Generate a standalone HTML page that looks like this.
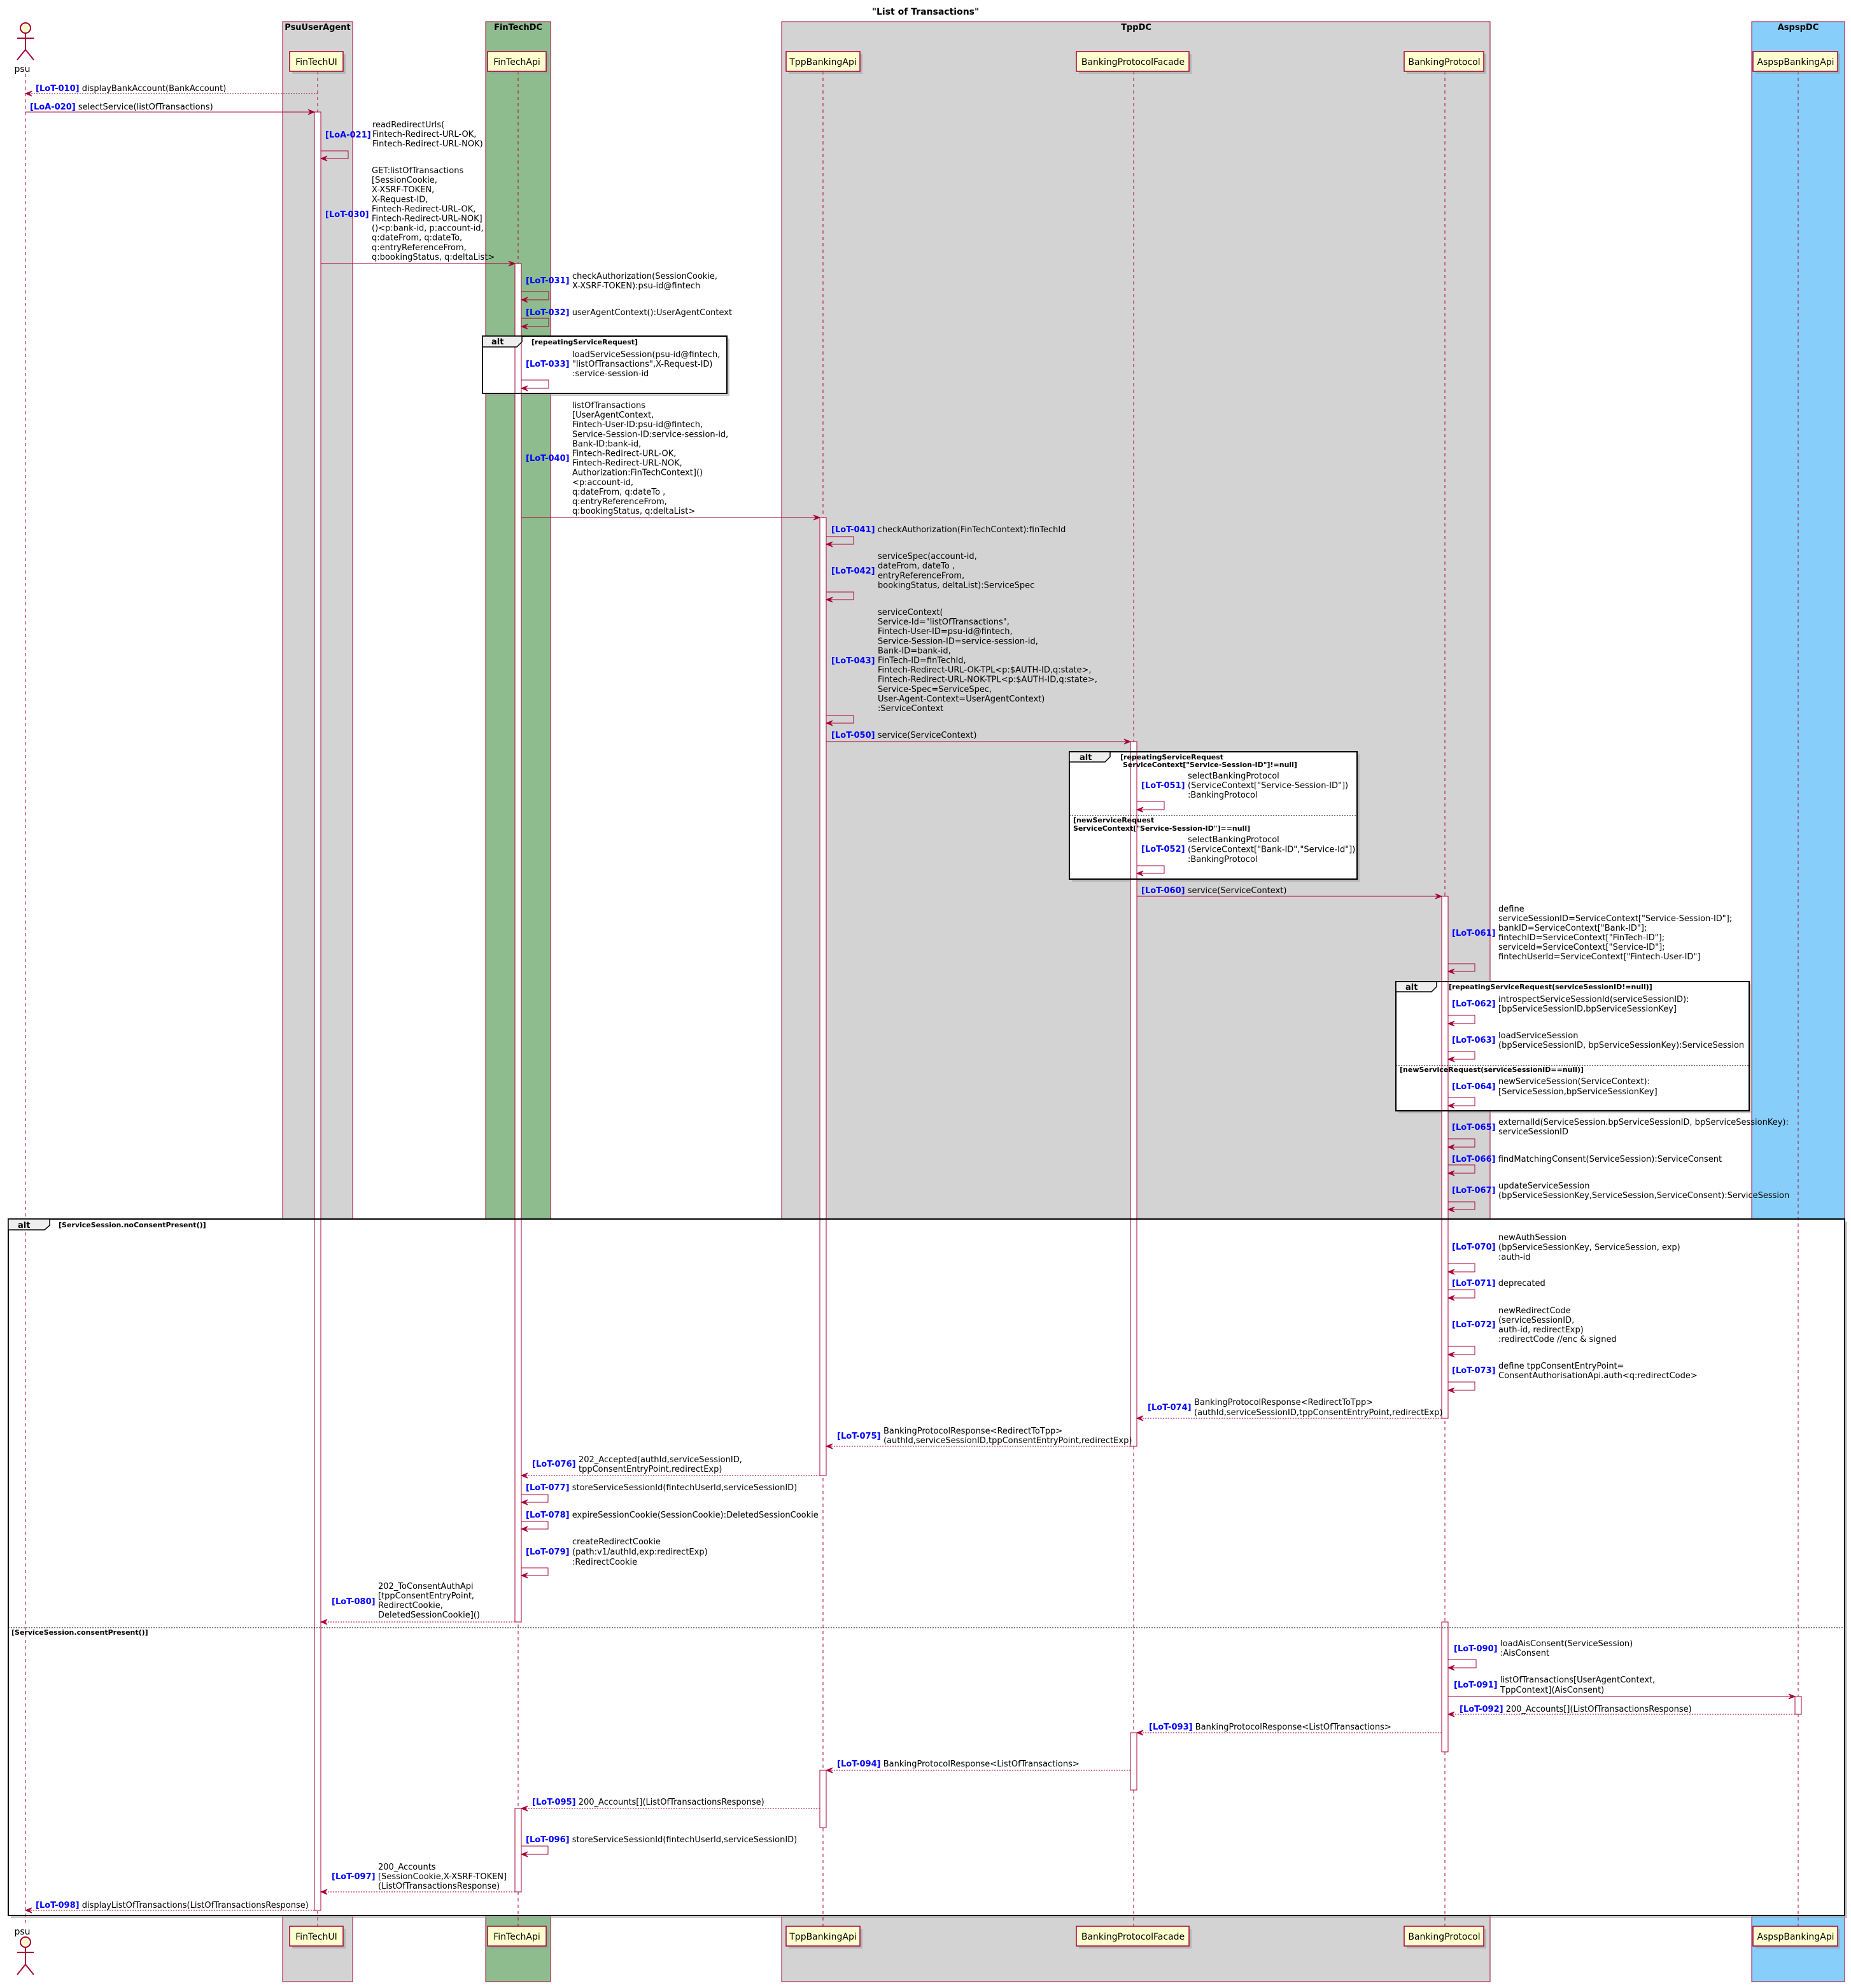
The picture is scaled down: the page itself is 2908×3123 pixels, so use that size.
<!DOCTYPE html>
<html><head><meta charset="utf-8"><style>
html,body{margin:0;padding:0;background:#fff}
svg{display:block}
text{font-family:"DejaVu Sans","Liberation Sans",sans-serif;font-size:13px;fill:#000}
.p{fill:#0000FF;font-weight:bold}
.g{font-size:11px;font-weight:bold}
.h{font-size:13px;font-weight:bold}
.pt{font-size:14px}
.ll{stroke:#A80036;stroke-width:1;stroke-dasharray:5,5}
.m{stroke:#A80036;stroke-width:1;fill:none}
.d{stroke:#A80036;stroke-width:1;fill:none;stroke-dasharray:2,2}
.ah{fill:#A80036;stroke:#A80036}
.act{fill:#fff;stroke:#A80036;stroke-width:1}
.part{fill:#FEFECE;stroke:#A80036;stroke-width:1.5}
.sh{fill:#999;opacity:.5}
.alt{fill:none;stroke:#000;stroke-width:2}
.sep{stroke:#000;stroke-width:1;stroke-dasharray:2,2}
</style></head><body>
<svg width="2908" height="3123" viewBox="0 0 2908 3123" xmlns="http://www.w3.org/2000/svg">
<text x="1454" y="23" text-anchor="middle" class="h" style="font-size:14px">"List of Transactions"</text>
<rect x="444" y="34" width="110" height="3079" fill="#D3D3D3" stroke="#A80036"/>
<rect x="763" y="34" width="102" height="3079" fill="#8FBC8F" stroke="#A80036"/>
<rect x="1228" y="34" width="1113" height="3079" fill="#D3D3D3" stroke="#A80036"/>
<rect x="2752" y="34" width="146" height="3079" fill="#87CEFA" stroke="#A80036"/>
<text x="499" y="47" text-anchor="middle" class="h">PsuUserAgent</text>
<text x="814" y="47" text-anchor="middle" class="h">FinTechDC</text>
<text x="1785" y="47" text-anchor="middle" class="h">TppDC</text>
<text x="2825" y="47" text-anchor="middle" class="h">AspspDC</text>

<rect x="17" y="1919" width="2885" height="1094" class="sh"/>
<rect x="13" y="1915" width="2885" height="1094" fill="#fff"/>
<rect x="762" y="532" width="384" height="90" class="sh"/>
<rect x="758" y="528" width="384" height="90" fill="#fff"/>
<rect x="1684" y="1185" width="452" height="200" class="sh"/>
<rect x="1680" y="1181" width="452" height="200" fill="#fff"/>
<rect x="2197" y="1546" width="555" height="203" class="sh"/>
<rect x="2193" y="1542" width="555" height="203" fill="#fff"/>

<line x1="40" y1="116" x2="40" y2="3026" class="ll"/>
<line x1="499" y1="112" x2="499" y2="3026" class="ll"/>
<line x1="814" y1="112" x2="814" y2="3026" class="ll"/>
<line x1="1293" y1="112" x2="1293" y2="3026" class="ll"/>
<line x1="1781" y1="112" x2="1781" y2="3026" class="ll"/>
<line x1="2270" y1="112" x2="2270" y2="3026" class="ll"/>
<line x1="2825" y1="112" x2="2825" y2="3026" class="ll"/>

<g>
<rect x="459" y="85" width="84" height="31" class="sh"/><rect x="455" y="81" width="84" height="31" class="part"/><text x="497" y="102" text-anchor="middle" class="pt">FinTechUI</text>
<rect x="770" y="85" width="92" height="31" class="sh"/><rect x="766" y="81" width="92" height="31" class="part"/><text x="812" y="102" text-anchor="middle" class="pt">FinTechApi</text>
<rect x="1239" y="85" width="116" height="31" class="sh"/><rect x="1235" y="81" width="116" height="31" class="part"/><text x="1293" y="102" text-anchor="middle" class="pt">TppBankingApi</text>
<rect x="1695" y="85" width="177" height="31" class="sh"/><rect x="1691" y="81" width="177" height="31" class="part"/><text x="1780" y="102" text-anchor="middle" class="pt">BankingProtocolFacade</text>
<rect x="2210" y="85" width="125" height="31" class="sh"/><rect x="2206" y="81" width="125" height="31" class="part"/><text x="2269" y="102" text-anchor="middle" class="pt">BankingProtocol</text>
<rect x="2758" y="85" width="133" height="31" class="sh"/><rect x="2754" y="81" width="133" height="31" class="part"/><text x="2821" y="102" text-anchor="middle" class="pt">AspspBankingApi</text>
<circle cx="40" cy="44" r="8" fill="#FEFECE" stroke="#A80036" stroke-width="2"/>
<line x1="40" y1="52" x2="40" y2="78" stroke="#A80036" stroke-width="2"/>
<line x1="27" y1="60" x2="53" y2="60" stroke="#A80036" stroke-width="2"/>
<polyline points="27,94 40,78 53,94" fill="none" stroke="#A80036" stroke-width="2"/>
<text x="35" y="113" text-anchor="middle" class="pt">psu</text>
</g>
<g>
<rect x="459" y="3030" width="84" height="31" class="sh"/><rect x="455" y="3026" width="84" height="31" class="part"/><text x="497" y="3047" text-anchor="middle" class="pt">FinTechUI</text>
<rect x="770" y="3030" width="92" height="31" class="sh"/><rect x="766" y="3026" width="92" height="31" class="part"/><text x="812" y="3047" text-anchor="middle" class="pt">FinTechApi</text>
<rect x="1239" y="3030" width="116" height="31" class="sh"/><rect x="1235" y="3026" width="116" height="31" class="part"/><text x="1293" y="3047" text-anchor="middle" class="pt">TppBankingApi</text>
<rect x="1695" y="3030" width="177" height="31" class="sh"/><rect x="1691" y="3026" width="177" height="31" class="part"/><text x="1780" y="3047" text-anchor="middle" class="pt">BankingProtocolFacade</text>
<rect x="2210" y="3030" width="125" height="31" class="sh"/><rect x="2206" y="3026" width="125" height="31" class="part"/><text x="2269" y="3047" text-anchor="middle" class="pt">BankingProtocol</text>
<rect x="2758" y="3030" width="133" height="31" class="sh"/><rect x="2754" y="3026" width="133" height="31" class="part"/><text x="2821" y="3047" text-anchor="middle" class="pt">AspspBankingApi</text>
<text x="35" y="3039" text-anchor="middle" class="pt">psu</text>
<circle cx="40" cy="3051" r="8" fill="#FEFECE" stroke="#A80036" stroke-width="2"/>
<line x1="40" y1="3059" x2="40" y2="3086" stroke="#A80036" stroke-width="2"/>
<line x1="27" y1="3067" x2="53" y2="3067" stroke="#A80036" stroke-width="2"/>
<polyline points="27,3102 40,3086 53,3102" fill="none" stroke="#A80036" stroke-width="2"/>
</g>

<rect x="494" y="176" width="10" height="2825" class="act"/>
<rect x="809" y="414" width="10" height="2134" class="act"/>
<rect x="809" y="2841" width="10" height="131" class="act"/>
<rect x="1288" y="813" width="10" height="1505" class="act"/>
<rect x="1288" y="2781" width="10" height="90" class="act"/>
<rect x="1776" y="1165" width="10" height="1107" class="act"/>
<rect x="1776" y="2722" width="10" height="90" class="act"/>
<rect x="2265" y="1408" width="10" height="820" class="act"/>
<rect x="2265" y="2548" width="10" height="204" class="act"/>
<rect x="2820" y="2665" width="10" height="28" class="act"/>

<rect x="13" y="1915" width="2885" height="1094" class="alt"/>
<polygon points="13,1915 78,1915 78,1925 70,1932 13,1932" fill="#EEEEEE" stroke="#000" stroke-width="1.5"/>
<text x="28" y="1929" class="h">alt</text>
<text x="92" y="1928" class="g">[ServiceSession.noConsentPresent()]</text>
<line x1="13" y1="2557" x2="2898" y2="2557" class="sep"/>
<text x="18" y="2568" class="g">[ServiceSession.consentPresent()]</text>

<rect x="758" y="528" width="384" height="90" class="alt"/>
<polygon points="758,528 820,528 820,537 812,545 758,545" fill="#EEEEEE" stroke="#000" stroke-width="1.5"/>
<text x="772" y="541" class="h">alt</text>
<text x="835" y="541" class="g">[repeatingServiceRequest]</text>

<rect x="1680" y="1181" width="452" height="200" class="alt"/>
<polygon points="1680,1181 1744,1181 1744,1189 1736,1197 1680,1197" fill="#EEEEEE" stroke="#000" stroke-width="1.5"/>
<text x="1696" y="1194" class="h">alt</text>
<text x="1760" y="1193" class="g">[repeatingServiceRequest</text>
<text x="1764" y="1205" class="g">ServiceContext["Service-Session-ID"]!=null]</text>
<line x1="1680" y1="1281" x2="2132" y2="1281" class="sep"/>
<text x="1686" y="1292" class="g">[newServiceRequest</text>
<text x="1686" y="1305" class="g">ServiceContext["Service-Session-ID"]==null]</text>

<rect x="2193" y="1542" width="555" height="203" class="alt"/>
<polygon points="2193,1542 2257,1542 2257,1550 2249,1558 2193,1558" fill="#EEEEEE" stroke="#000" stroke-width="1.5"/>
<text x="2208" y="1555" class="h">alt</text>
<text x="2276" y="1554" class="g">[repeatingServiceRequest(serviceSessionID!=null)]</text>
<line x1="2193" y1="1674" x2="2748" y2="1674" class="sep"/>
<text x="2199" y="1684" class="g">[newServiceRequest(serviceSessionID==null)]</text>

<line x1="499" y1="147" x2="41" y2="147" class="d"/>
<polygon points="40,147 50,143 46,147 50,151" class="ah"/>
<text x="56" y="143"><tspan class="p">[LoT-010]</tspan> displayBankAccount(BankAccount)</text>
<line x1="40" y1="176" x2="493" y2="176" class="m"/>
<polygon points="494,176 484,172 488,176 484,180" class="ah"/>
<text x="47" y="172"><tspan class="p">[LoA-020]</tspan> selectService(listOfTransactions)</text>
<polyline points="504,237 547,237 547,249 505,249" class="m"/>
<polygon points="504,249 514,245 510,249 514,253" class="ah"/>
<text x="511" y="216" class="p">[LoA-021]</text>
<text x="585" y="200">readRedirectUrls(<tspan x="585" dy="15">Fintech-Redirect-URL-OK,</tspan><tspan x="585" dy="15">Fintech-Redirect-URL-NOK)</tspan></text>
<line x1="504" y1="414" x2="808" y2="414" class="m"/>
<polygon points="809,414 799,410 803,414 799,418" class="ah"/>
<text x="511" y="341" class="p">[LoT-030]</text>
<text x="584" y="272">GET:listOfTransactions<tspan x="584" dy="15.1">[SessionCookie,</tspan><tspan x="584" dy="15.1">X-XSRF-TOKEN,</tspan><tspan x="584" dy="15.1">X-Request-ID,</tspan><tspan x="584" dy="15.1">Fintech-Redirect-URL-OK,</tspan><tspan x="584" dy="15.1">Fintech-Redirect-URL-NOK]</tspan><tspan x="584" dy="15.1">()&lt;p:bank-id, p:account-id,</tspan><tspan x="584" dy="15.1">q:dateFrom, q:dateTo,</tspan><tspan x="584" dy="15.1">q:entryReferenceFrom,</tspan><tspan x="584" dy="15.1">q:bookingStatus, q:deltaList&gt;</tspan></text>
<polyline points="819,458 862,458 862,471 820,471" class="m"/>
<polygon points="819,471 829,467 825,471 829,475" class="ah"/>
<text x="826" y="445" class="p">[LoT-031]</text>
<text x="899" y="438">checkAuthorization(SessionCookie,<tspan x="899" dy="15">X-XSRF-TOKEN):psu-id@fintech</tspan></text>
<polyline points="819,500 862,500 862,513 820,513" class="m"/>
<polygon points="819,513 829,509 825,513 829,517" class="ah"/>
<text x="826" y="495"><tspan class="p">[LoT-032]</tspan> userAgentContext():UserAgentContext</text>
<polyline points="819,597 862,597 862,610 820,610" class="m"/>
<polygon points="819,610 829,606 825,610 829,614" class="ah"/>
<text x="826" y="576" class="p">[LoT-033]</text>
<text x="899" y="561">loadServiceSession(psu-id@fintech,<tspan x="899" dy="15">"listOfTransactions",X-Request-ID)</tspan><tspan x="899" dy="15">:service-session-id</tspan></text>
<line x1="819" y1="813" x2="1287" y2="813" class="m"/>
<polygon points="1288,813 1278,809 1282,813 1278,817" class="ah"/>
<text x="826" y="724" class="p">[LoT-040]</text>
<text x="899" y="641">listOfTransactions<tspan x="899" dy="15.1">[UserAgentContext,</tspan><tspan x="899" dy="15.1">Fintech-User-ID:psu-id@fintech,</tspan><tspan x="899" dy="15.1">Service-Session-ID:service-session-id,</tspan><tspan x="899" dy="15.1">Bank-ID:bank-id,</tspan><tspan x="899" dy="15.1">Fintech-Redirect-URL-OK,</tspan><tspan x="899" dy="15.1">Fintech-Redirect-URL-NOK,</tspan><tspan x="899" dy="15.1">Authorization:FinTechContext]()</tspan><tspan x="899" dy="15.1">&lt;p:account-id,</tspan><tspan x="899" dy="15.1">q:dateFrom, q:dateTo ,</tspan><tspan x="899" dy="15.1">q:entryReferenceFrom,</tspan><tspan x="899" dy="15.1">q:bookingStatus, q:deltaList&gt;</tspan></text>
<polyline points="1298,843 1341,843 1341,855 1299,855" class="m"/>
<polygon points="1298,855 1308,851 1304,855 1308,859" class="ah"/>
<text x="1306" y="836"><tspan class="p">[LoT-041]</tspan> checkAuthorization(FinTechContext):finTechId</text>
<polyline points="1298,930 1341,930 1341,942 1299,942" class="m"/>
<polygon points="1298,942 1308,938 1304,942 1308,946" class="ah"/>
<text x="1306" y="901" class="p">[LoT-042]</text>
<text x="1379" y="878">serviceSpec(account-id,<tspan x="1379" dy="15.2">dateFrom, dateTo ,</tspan><tspan x="1379" dy="15.2">entryReferenceFrom,</tspan><tspan x="1379" dy="15.2">bookingStatus, deltaList):ServiceSpec</tspan></text>
<polyline points="1298,1124 1341,1124 1341,1136 1299,1136" class="m"/>
<polygon points="1298,1136 1308,1132 1304,1136 1308,1140" class="ah"/>
<text x="1306" y="1042" class="p">[LoT-043]</text>
<text x="1379" y="966">serviceContext(<tspan x="1379" dy="15.1">Service-Id="listOfTransactions",</tspan><tspan x="1379" dy="15.1">Fintech-User-ID=psu-id@fintech,</tspan><tspan x="1379" dy="15.1">Service-Session-ID=service-session-id,</tspan><tspan x="1379" dy="15.1">Bank-ID=bank-id,</tspan><tspan x="1379" dy="15.1">FinTech-ID=finTechId,</tspan><tspan x="1379" dy="15.1">Fintech-Redirect-URL-OK-TPL&lt;p:$AUTH-ID,q:state&gt;,</tspan><tspan x="1379" dy="15.1">Fintech-Redirect-URL-NOK-TPL&lt;p:$AUTH-ID,q:state&gt;,</tspan><tspan x="1379" dy="15.1">Service-Spec=ServiceSpec,</tspan><tspan x="1379" dy="15.1">User-Agent-Context=UserAgentContext)</tspan><tspan x="1379" dy="15.1">:ServiceContext</tspan></text>
<line x1="1298" y1="1165" x2="1775" y2="1165" class="m"/>
<polygon points="1776,1165 1766,1161 1770,1165 1766,1169" class="ah"/>
<text x="1306" y="1159"><tspan class="p">[LoT-050]</tspan> service(ServiceContext)</text>
<polyline points="1786,1259 1829,1259 1829,1272 1787,1272" class="m"/>
<polygon points="1786,1272 1796,1268 1792,1272 1796,1276" class="ah"/>
<text x="1793" y="1238" class="p">[LoT-051]</text>
<text x="1866" y="1223">selectBankingProtocol<tspan x="1866" dy="15">(ServiceContext["Service-Session-ID"])</tspan><tspan x="1866" dy="15">:BankingProtocol</tspan></text>
<polyline points="1786,1360 1829,1360 1829,1372 1787,1372" class="m"/>
<polygon points="1786,1372 1796,1368 1792,1372 1796,1376" class="ah"/>
<text x="1793" y="1338" class="p">[LoT-052]</text>
<text x="1866" y="1323">selectBankingProtocol<tspan x="1866" dy="15.5">(ServiceContext["Bank-ID","Service-Id"])</tspan><tspan x="1866" dy="15.5">:BankingProtocol</tspan></text>
<line x1="1786" y1="1408" x2="2264" y2="1408" class="m"/>
<polygon points="2265,1408 2255,1404 2259,1408 2255,1412" class="ah"/>
<text x="1793" y="1403"><tspan class="p">[LoT-060]</tspan> service(ServiceContext)</text>
<polyline points="2275,1514 2317,1514 2317,1526 2276,1526" class="m"/>
<polygon points="2275,1526 2285,1522 2281,1526 2285,1530" class="ah"/>
<text x="2281" y="1470" class="p">[LoT-061]</text>
<text x="2354" y="1432">define<tspan x="2354" dy="15">serviceSessionID=ServiceContext["Service-Session-ID"];</tspan><tspan x="2354" dy="15">bankID=ServiceContext["Bank-ID"];</tspan><tspan x="2354" dy="15">fintechID=ServiceContext["FinTech-ID"];</tspan><tspan x="2354" dy="15">serviceId=ServiceContext["Service-ID"];</tspan><tspan x="2354" dy="15">fintechUserId=ServiceContext["Fintech-User-ID"]</tspan></text>
<polyline points="2275,1595 2317,1595 2317,1608 2276,1608" class="m"/>
<polygon points="2275,1608 2285,1604 2281,1608 2285,1612" class="ah"/>
<text x="2281" y="1581" class="p">[LoT-062]</text>
<text x="2354" y="1574">introspectServiceSessionId(serviceSessionID):<tspan x="2354" dy="15">[bpServiceSessionID,bpServiceSessionKey]</tspan></text>
<polyline points="2275,1652 2317,1652 2317,1664 2276,1664" class="m"/>
<polygon points="2275,1664 2285,1660 2281,1664 2285,1668" class="ah"/>
<text x="2281" y="1638" class="p">[LoT-063]</text>
<text x="2354" y="1631">loadServiceSession<tspan x="2354" dy="15">(bpServiceSessionID, bpServiceSessionKey):ServiceSession</tspan></text>
<polyline points="2275,1724 2317,1724 2317,1737 2276,1737" class="m"/>
<polygon points="2275,1737 2285,1733 2281,1737 2285,1741" class="ah"/>
<text x="2281" y="1711" class="p">[LoT-064]</text>
<text x="2354" y="1703">newServiceSession(ServiceContext):<tspan x="2354" dy="16">[ServiceSession,bpServiceSessionKey]</tspan></text>
<polyline points="2275,1789 2317,1789 2317,1802 2276,1802" class="m"/>
<polygon points="2275,1802 2285,1798 2281,1802 2285,1806" class="ah"/>
<text x="2281" y="1775" class="p">[LoT-065]</text>
<text x="2354" y="1767">externalId(ServiceSession.bpServiceSessionID, bpServiceSessionKey):<tspan x="2354" dy="15">serviceSessionID</tspan></text>
<polyline points="2275,1830 2317,1830 2317,1843 2276,1843" class="m"/>
<polygon points="2275,1843 2285,1839 2281,1843 2285,1847" class="ah"/>
<text x="2281" y="1825"><tspan class="p">[LoT-066]</tspan> findMatchingConsent(ServiceSession):ServiceConsent</text>
<polyline points="2275,1888 2317,1888 2317,1900 2276,1900" class="m"/>
<polygon points="2275,1900 2285,1896 2281,1900 2285,1904" class="ah"/>
<text x="2281" y="1874" class="p">[LoT-067]</text>
<text x="2354" y="1867">updateServiceSession<tspan x="2354" dy="15">(bpServiceSessionKey,ServiceSession,ServiceConsent):ServiceSession</tspan></text>
<polyline points="2275,1985 2317,1985 2317,1998 2276,1998" class="m"/>
<polygon points="2275,1998 2285,1994 2281,1998 2285,2002" class="ah"/>
<text x="2281" y="1963" class="p">[LoT-070]</text>
<text x="2354" y="1948">newAuthSession<tspan x="2354" dy="15.5">(bpServiceSessionKey, ServiceSession, exp)</tspan><tspan x="2354" dy="15.5">:auth-id</tspan></text>
<polyline points="2275,2026 2317,2026 2317,2039 2276,2039" class="m"/>
<polygon points="2275,2039 2285,2035 2281,2039 2285,2043" class="ah"/>
<text x="2281" y="2020"><tspan class="p">[LoT-071]</tspan> deprecated</text>
<polyline points="2275,2115 2317,2115 2317,2128 2276,2128" class="m"/>
<polygon points="2275,2128 2285,2124 2281,2128 2285,2132" class="ah"/>
<text x="2281" y="2085" class="p">[LoT-072]</text>
<text x="2354" y="2063">newRedirectCode<tspan x="2354" dy="15">(serviceSessionID,</tspan><tspan x="2354" dy="15">auth-id, redirectExp)</tspan><tspan x="2354" dy="15">:redirectCode //enc &amp; signed</tspan></text>
<polyline points="2275,2171 2317,2171 2317,2184 2276,2184" class="m"/>
<polygon points="2275,2184 2285,2180 2281,2184 2285,2188" class="ah"/>
<text x="2281" y="2157" class="p">[LoT-073]</text>
<text x="2354" y="2150">define tppConsentEntryPoint=<tspan x="2354" dy="15">ConsentAuthorisationApi.auth&lt;q:redirectCode&gt;</tspan></text>
<line x1="2265" y1="2228" x2="1787" y2="2228" class="d"/>
<polygon points="1786,2228 1796,2224 1792,2228 1796,2232" class="ah"/>
<text x="1803" y="2215" class="p">[LoT-074]</text>
<text x="1876" y="2207">BankingProtocolResponse&lt;RedirectToTpp&gt;<tspan x="1876" dy="16">(authId,serviceSessionID,tppConsentEntryPoint,redirectExp)</tspan></text>
<line x1="1776" y1="2272" x2="1299" y2="2272" class="d"/>
<polygon points="1298,2272 1308,2268 1304,2272 1308,2276" class="ah"/>
<text x="1315" y="2260" class="p">[LoT-075]</text>
<text x="1388" y="2252">BankingProtocolResponse&lt;RedirectToTpp&gt;<tspan x="1388" dy="15">(authId,serviceSessionID,tppConsentEntryPoint,redirectExp)</tspan></text>
<line x1="1288" y1="2318" x2="820" y2="2318" class="d"/>
<polygon points="819,2318 829,2314 825,2318 829,2322" class="ah"/>
<text x="836" y="2304" class="p">[LoT-076]</text>
<text x="909" y="2297">202_Accepted(authId,serviceSessionID,<tspan x="909" dy="15">tppConsentEntryPoint,redirectExp)</tspan></text>
<polyline points="819,2348 861,2348 861,2360 820,2360" class="m"/>
<polygon points="819,2360 829,2356 825,2360 829,2364" class="ah"/>
<text x="826" y="2341"><tspan class="p">[LoT-077]</tspan> storeServiceSessionId(fintechUserId,serviceSessionID)</text>
<polyline points="819,2390 861,2390 861,2402 820,2402" class="m"/>
<polygon points="819,2402 829,2398 825,2402 829,2406" class="ah"/>
<text x="826" y="2384"><tspan class="p">[LoT-078]</tspan> expireSessionCookie(SessionCookie):DeletedSessionCookie</text>
<polyline points="819,2463 861,2463 861,2475 820,2475" class="m"/>
<polygon points="819,2475 829,2471 825,2475 829,2479" class="ah"/>
<text x="826" y="2442" class="p">[LoT-079]</text>
<text x="899" y="2426">createRedirectCookie<tspan x="899" dy="16">(path:v1/authId,exp:redirectExp)</tspan><tspan x="899" dy="16">:RedirectCookie</tspan></text>
<line x1="809" y1="2548" x2="505" y2="2548" class="d"/>
<polygon points="504,2548 514,2544 510,2548 514,2552" class="ah"/>
<text x="521" y="2520" class="p">[LoT-080]</text>
<text x="594" y="2496">202_ToConsentAuthApi<tspan x="594" dy="15">[tppConsentEntryPoint,</tspan><tspan x="594" dy="15">RedirectCookie,</tspan><tspan x="594" dy="15">DeletedSessionCookie]()</tspan></text>
<polyline points="2275,2607 2319,2607 2319,2620 2276,2620" class="m"/>
<polygon points="2275,2620 2285,2616 2281,2620 2285,2624" class="ah"/>
<text x="2284" y="2594" class="p">[LoT-090]</text>
<text x="2357" y="2586">loadAisConsent(ServiceSession)<tspan x="2357" dy="15">:AisConsent</tspan></text>
<line x1="2275" y1="2665" x2="2819" y2="2665" class="m"/>
<polygon points="2820,2665 2810,2661 2814,2665 2810,2669" class="ah"/>
<text x="2284" y="2651" class="p">[LoT-091]</text>
<text x="2357" y="2643">listOfTransactions[UserAgentContext,<tspan x="2357" dy="16">TppContext](AisConsent)</tspan></text>
<line x1="2820" y1="2693" x2="2276" y2="2693" class="d"/>
<polygon points="2275,2693 2285,2689 2281,2693 2285,2697" class="ah"/>
<text x="2293" y="2689"><tspan class="p">[LoT-092]</tspan> 200_Accounts[](ListOfTransactionsResponse)</text>
<line x1="2265" y1="2722" x2="1787" y2="2722" class="d"/>
<polygon points="1786,2722 1796,2718 1792,2722 1796,2726" class="ah"/>
<text x="1805" y="2717"><tspan class="p">[LoT-093]</tspan> BankingProtocolResponse&lt;ListOfTransactions&gt;</text>
<line x1="1776" y1="2781" x2="1299" y2="2781" class="d"/>
<polygon points="1298,2781 1308,2777 1304,2781 1308,2785" class="ah"/>
<text x="1315" y="2775"><tspan class="p">[LoT-094]</tspan> BankingProtocolResponse&lt;ListOfTransactions&gt;</text>
<line x1="1288" y1="2841" x2="820" y2="2841" class="d"/>
<polygon points="819,2841 829,2837 825,2841 829,2845" class="ah"/>
<text x="836" y="2835"><tspan class="p">[LoT-095]</tspan> 200_Accounts[](ListOfTransactionsResponse)</text>
<polyline points="819,2900 861,2900 861,2913 820,2913" class="m"/>
<polygon points="819,2913 829,2909 825,2913 829,2917" class="ah"/>
<text x="826" y="2894"><tspan class="p">[LoT-096]</tspan> storeServiceSessionId(fintechUserId,serviceSessionID)</text>
<line x1="809" y1="2972" x2="505" y2="2972" class="d"/>
<polygon points="504,2972 514,2968 510,2972 514,2976" class="ah"/>
<text x="521" y="2952" class="p">[LoT-097]</text>
<text x="594" y="2937">200_Accounts<tspan x="594" dy="15">[SessionCookie,X-XSRF-TOKEN]</tspan><tspan x="594" dy="15">(ListOfTransactionsResponse)</tspan></text>
<line x1="494" y1="3001" x2="41" y2="3001" class="d"/>
<polygon points="40,3001 50,2997 46,3001 50,3005" class="ah"/>
<text x="56" y="2997"><tspan class="p">[LoT-098]</tspan> displayListOfTransactions(ListOfTransactionsResponse)</text>
</svg>
</body></html>
